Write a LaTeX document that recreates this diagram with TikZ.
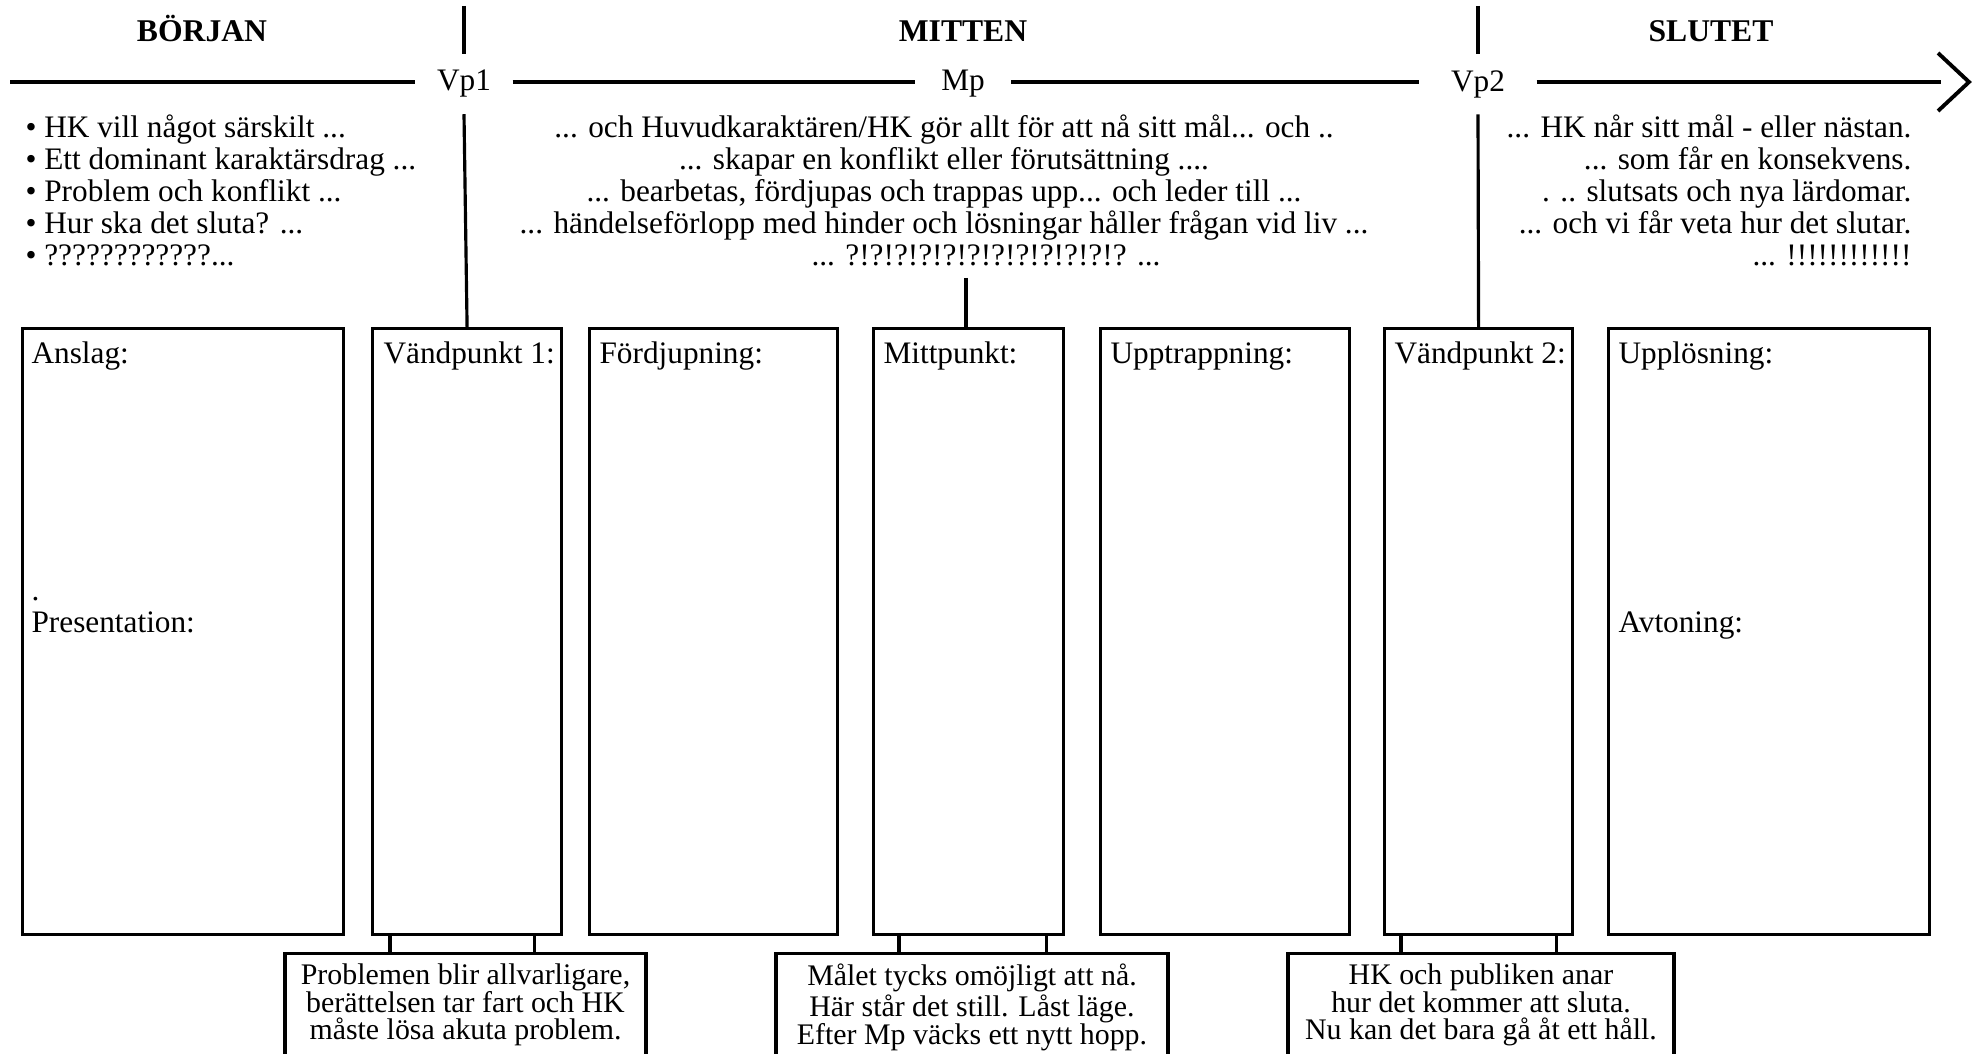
\documentclass[tikz,border=0pt]{standalone}
\usepackage{fontspec}
\setmainfont{Liberation Serif}
\usetikzlibrary{arrows.meta,positioning}

\begin{document}
\begin{tikzpicture}[font=\fontsize{8.9}{9.1}\selectfont,line width=0.9pt]
    \tikzstyle{part}=[rectangle,draw,anchor=north west,inner sep=0pt,minimum height=6.06cm]
    \tikzstyle{lbl}=[anchor=base west,inner sep=0pt,align=left]
    \tikzstyle{head}=[anchor=base,inner sep=0pt,font=\fontsize{9}{10}\selectfont\bfseries]
    \tikzstyle{point}=[inner ysep=0.15cm]
    \tikzstyle{note}=[rectangle,draw,anchor=north,align=center,inner xsep=0pt,inner ysep=0.1cm,text depth=0.4cm,font=\fontsize{8.5}{7.9}\selectfont]
    \useasboundingbox (0,0) rectangle (19.77,-10.54);
    \clip (0,0) rectangle (19.77,-10.54);

    \node [head] (borjan) at (2.02,-0.42) {BÖRJAN};
    \node [head] (mitten) at (9.63,-0.42) {MITTEN};
    \node [head] (slutet) at (17.11,-0.42) {SLUTET};

    \node [point,inner xsep=0.2cm] (vp1) at (4.64,-0.84) {Vp1};
    \node [point,inner xsep=0.25cm] (mp) at (9.63,-0.84) {Mp};
    \node [point,inner xsep=0.3cm] (vp2) at (14.78,-0.84) {Vp2};
    \coordinate (start) at (0.10,-0.82);
    \coordinate (stop) at (19.41,-0.82);
    \coordinate (tip) at (19.69,-0.82);
    \draw (start) -- (start -| vp1.west);
    \draw (start -| vp1.east) -- (start -| mp.west);
    \draw (start -| mp.east) -- (start -| vp2.west);
    \draw (start -| vp2.east) -- (stop);
    \draw [line width=1.1pt] ([shift={(-0.31,0.29)}]tip) -- (tip) -- ([shift={(-0.31,-0.29)}]tip);

    \node [anchor=north west,inner sep=0pt,align=left] (borjantxt) at (0.24,-1.13) {%
      • HK vill något särskilt ...\\
      • Ett dominant karaktärsdrag ...\\
      • Problem och konflikt ...\\
      • Hur ska det sluta? ...\\
      • ????????????...};
    \node [anchor=north,inner sep=0pt,align=center] (mittentxt) at (9.44,-1.13) {%
      ... och Huvudkaraktären/HK gör allt för att nå sitt mål... och ..\\
      ... skapar en konflikt eller förutsättning ....\\
      ... bearbetas, fördjupas och trappas upp... och leder till ...\\
      ... händelseförlopp med hinder och lösningar håller frågan vid liv ...\\
      \hspace*{0.84cm}... ?!?!?!?!?!?!?!?!?!?!?!? ...};
    \node [anchor=north east,inner sep=0pt,align=right] (slutettxt) at (19.13,-1.13) {%
      ... HK når sitt mål - eller nästan.\\
      ... som får en konsekvens.\\
      . .. slutsats och nya lärdomar.\\
      ... och vi får veta hur det slutar.\\
      ... !!!!!!!!!!!!};

    \node [part,minimum width=3.21cm] (anslag) at (0.21,-3.27) {};
    \node [part,minimum width=1.89cm] (vand1) at (3.71,-3.27) {};
    \node [part,minimum width=2.48cm] (fordj) at (5.88,-3.27) {};
    \node [part,minimum width=1.90cm] (mittp) at (8.72,-3.27) {};
    \node [part,minimum width=2.49cm] (upptr) at (10.99,-3.27) {};
    \node [part,minimum width=1.88cm] (vand2) at (13.83,-3.27) {};
    \node [part,minimum width=3.21cm] (upplos) at (16.07,-3.27) {};

    \node [lbl] (anslagtxt) at ([xshift=0.09cm,yshift=-0.36cm]anslag.north west) {Anslag:};
    \node [lbl] (presenttxt) at ([xshift=0.09cm,yshift=-3.05cm]anslag.north west) {.\\Presentation:};
    \node [lbl] (vand1txt) at ([xshift=0.11cm,yshift=-0.36cm]vand1.north west) {Vändpunkt 1:};
    \node [lbl] (fordjtxt) at ([xshift=0.1cm,yshift=-0.36cm]fordj.north west) {Fördjupning:};
    \node [lbl] (mittptxt) at ([xshift=0.1cm,yshift=-0.36cm]mittp.north west) {Mittpunkt:};
    \node [lbl] (upptrtxt) at ([xshift=0.1cm,yshift=-0.36cm]upptr.north west) {Upptrappning:};
    \node [lbl] (vand2txt) at ([xshift=0.1cm,yshift=-0.36cm]vand2.north west) {Vändpunkt 2:};
    \node [lbl] (upplostxt) at ([xshift=0.1cm,yshift=-0.36cm]upplos.north west) {Upplösning:};
    \node [lbl] (avtontxt) at ([xshift=0.1cm,yshift=-3.05cm]upplos.north west) {Avtoning:};

    \coordinate (vp1top) at (4.64,-0.06);
    \coordinate (vp2top) at (14.78,-0.06);
    \coordinate (mptop) at (9.66,-2.78);
    \draw (vp1top) -- (vp1.north);
    \draw (vp1.south) -- (vand1.north);
    \draw (vp2top) -- (vp2.north);
    \draw (vp2.south) -- (vand2.north);
    \draw (mptop) -- (mptop |- mittp.north);

    \node [note,minimum width=3.61cm] (skarpt) at (4.655,-9.52) {Problemen blir allvarligare,\\berättelsen tar fart och HK\\måste lösa akuta problem.};
    \node [note,minimum width=3.92cm] (lastlage) at (9.72,-9.52) {Målet tycks omöjligt att nå.\\Här står det still. Låst läge.\\Efter Mp väcks ett nytt hopp.};
    \node [note,minimum width=3.86cm] (anar) at (14.81,-9.52) {HK och publiken anar\\hur det kommer att sluta.\\Nu kan det bara gå åt ett håll.};

    \draw ([xshift=0.19cm]vand1.south west) -- ([xshift=0.19cm]vand1.south west |- skarpt.north);
    \draw ([xshift=-0.29cm]vand1.south east) -- ([xshift=-0.29cm]vand1.south east |- skarpt.north);
    \draw ([xshift=0.27cm]mittp.south west) -- ([xshift=0.27cm]mittp.south west |- lastlage.north);
    \draw ([xshift=-0.19cm]mittp.south east) -- ([xshift=-0.19cm]mittp.south east |- lastlage.north);
    \draw ([xshift=0.18cm]vand2.south west) -- ([xshift=0.18cm]vand2.south west |- anar.north);
    \draw ([xshift=-0.18cm]vand2.south east) -- ([xshift=-0.18cm]vand2.south east |- anar.north);
  \end{tikzpicture}
\end{document}
